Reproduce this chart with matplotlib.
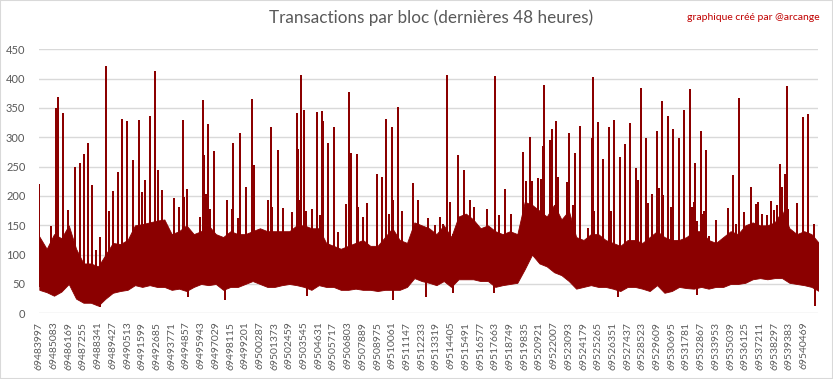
import numpy as np
import matplotlib
matplotlib.use("Agg")
import matplotlib.pyplot as plt
from matplotlib.patches import Rectangle

plt.rcParams['font.family'] = ['Lato', 'DejaVu Sans']

first_block = 69483997
last_block = first_block + 57490
tick_step = 1086
n_ticks = 53

# envelope of the dense band, read every half tick (543 blocks)
band_hi = [131, 110, 135, 128, 150, 110, 85, 85, 80, 100, 120, 118, 125, 150, 152, 155, 158, 160,
           135, 140, 150, 135, 140, 150, 135, 130, 140, 135, 135, 140, 145, 140, 140, 140, 140, 150,
           150, 145, 145, 120, 115, 110, 115, 120, 125, 115, 115, 130, 145, 125, 120, 155, 150, 145,
           135, 150, 130, 165, 170, 160, 145, 150, 140, 135, 140, 135, 190, 185, 175, 165, 185,
           160, 175, 130, 125, 135, 135, 125, 120, 115, 125, 125, 120, 130, 140, 130, 125, 125, 130,
           140, 140, 125, 120, 130, 140, 135, 150, 155, 150, 150, 155, 175, 145, 135, 140, 135, 120]
band_lo = [40, 36, 30, 37, 50, 25, 18, 18, 13, 25, 35, 38, 40, 48, 45, 48, 45, 45,
           40, 42, 38, 45, 50, 48, 50, 40, 45, 45, 50, 55, 50, 45, 45, 48, 50, 48,
           45, 40, 48, 45, 45, 40, 40, 42, 40, 40, 38, 40, 40, 40, 45, 60, 55, 52,
           48, 55, 45, 58, 58, 58, 55, 55, 45, 48, 50, 52, 75, 100, 85, 80, 70,
           65, 55, 42, 45, 48, 45, 45, 42, 38, 45, 45, 42, 38, 48, 35, 38, 45, 43,
           42, 45, 42, 45, 45, 50, 50, 52, 58, 60, 58, 60, 60, 52, 50, 48, 45, 38]

# isolated spikes: block offset from first block, transactions
spike_off = [0, 864, 1208, 1258, 1356, 1774, 2143, 2660, 3030, 3325, 3620, 3915, 4211, 4506,
             4924, 5146, 5466, 5810, 6130, 6500, 6943, 7386, 7607, 7828, 8197, 8567, 8788, 9084,
             9969, 10338, 10634, 10707, 10929, 11889, 12061, 12110, 12184, 12332, 12479, 12627,
             12922, 13882, 14202, 14325, 14694, 14842, 15285, 15728, 15875, 16909, 17131, 17204,
             17647, 17967, 18681, 19050, 19124,
             19198, 19346, 19567, 19690, 20158, 20527, 20748, 20896, 20970, 21339, 21782, 22077,
             22668, 22890, 23037, 23480, 23554, 23923, 24218, 24957, 25326, 25621, 25843, 26064,
             26138, 26507, 26802, 27615, 27984,
             28673, 29239, 29608, 29830, 30125, 30346, 30937, 31380, 31823, 32069, 33078, 33669,
             33915, 34407, 34850, 35736, 35957, 36253, 36400, 36794, 37065, 37213, 37286, 37729,
             37828, 38172, 38320,
             38517, 38985, 39132, 39428, 39575, 39944, 40535, 40830, 40904, 40978, 41273, 41642,
             42085, 42233, 42455, 42898, 43267, 43636, 44079, 44227, 44448, 44817, 44965, 45260,
             45629, 45777, 45998, 46072, 46441, 46663, 46810, 47253, 47623,
             48066, 48213, 48361, 48435, 48583, 48878, 48952, 49099, 49247, 49444, 49985, 50871,
             51240, 51462, 51683, 52052, 52569, 52939, 53086, 53381, 53751, 54046, 54268, 54489,
             54711, 54858, 55080, 55227, 55301, 55966, 56408, 56777, 57221]
spike_val = [220, 148, 350, 278, 368, 341, 176, 249, 257, 271, 290, 219, 108, 130,
             422, 174, 209, 241, 332, 327, 261, 329, 206, 228, 336, 413, 244, 210,
             196, 182, 329, 199, 212, 165, 207, 363, 270, 203, 322, 177,
             276, 193, 177, 290, 162, 307, 215, 365, 252, 193, 317, 181,
             278, 179, 173, 341, 280,
             194, 406, 347, 174, 177, 343, 167, 345, 327, 290, 317, 138,
             186, 377, 273, 272, 182, 165, 188, 237, 232, 331, 170, 317,
             194, 351, 174, 222, 193,
             162, 150, 165, 153, 407, 189, 269, 244, 194, 182, 178, 404,
             168, 212, 170, 275, 226, 300, 226, 230, 229, 285, 389, 296,
             314, 327, 233,
             153, 224, 307, 184, 273, 319, 146, 298, 402, 174, 326, 263,
             317, 174, 329, 266, 288, 324, 247, 227, 384, 298, 188, 203,
             310, 213, 362, 201, 336, 182, 315, 298, 346,
             382, 182, 189, 256, 157, 310, 170, 174, 278, 131, 159, 179,
             235, 152, 367, 172, 215, 186, 189, 170, 167, 191, 176, 184,
             254, 215, 237, 387, 177, 188, 334, 339, 152]

# downward dips below the band
dip_off = [4481, 11003, 13710, 19739, 26138, 28525, 30568, 33570, 42750, 48583, 57294]
dip_val = [10, 28, 23, 30, 22, 28, 34, 34, 28, 32, 13]

red = '#8b0000'
grey = '#595959'

fig = plt.figure(figsize=(8.33, 3.79), dpi=100)
ax = fig.add_axes([0.0472, 0.1733, 0.9347, 0.6966])

band_x = first_block + 543 * np.arange(len(band_hi))
ax.fill_between(band_x, band_lo, band_hi, color=red, lw=0.6, edgecolor=red)

sx = first_block + np.array(spike_off)
ax.vlines(sx, np.interp(sx, band_x, band_lo) + 5, spike_val, color=red, lw=1.1,
          antialiased=False)
dx = first_block + np.array(dip_off)
ax.vlines(dx, dip_val, np.interp(dx, band_x, band_hi) - 5, color=red, lw=1.1,
          antialiased=False)

ax.set_xlim(first_block, last_block)
ax.set_ylim(0, 450)
ax.set_yticks(np.arange(0, 451, 50))
ticks = first_block + tick_step * np.arange(n_ticks)
ax.set_xticks(ticks)
ax.set_xticklabels([str(t) for t in ticks], rotation=90, fontsize=7.5, color=grey)
ax.tick_params(axis='x', length=0, pad=6)
ax.tick_params(axis='y', length=0, pad=10, labelsize=8, labelcolor=grey)
ax.grid(axis='y', color='#d9d9d9', lw=1)
ax.set_axisbelow(True)
for s in ax.spines.values():
    s.set_visible(False)

fig.text(0.518, 0.953, 'Transactions par bloc (dernières 48 heures)', ha='center', va='center',
         fontsize=12.3, color=grey)
fig.text(0.984, 0.955, 'graphique créé par @arcange', ha='right', va='center',
         fontsize=7.5, color='#c00000')
fig.patches.append(Rectangle((0, 0), 1, 1, transform=fig.transFigure, fill=False,
                             edgecolor='#d9d9d9', lw=1.5))

fig.savefig('out.png', dpi=100)
